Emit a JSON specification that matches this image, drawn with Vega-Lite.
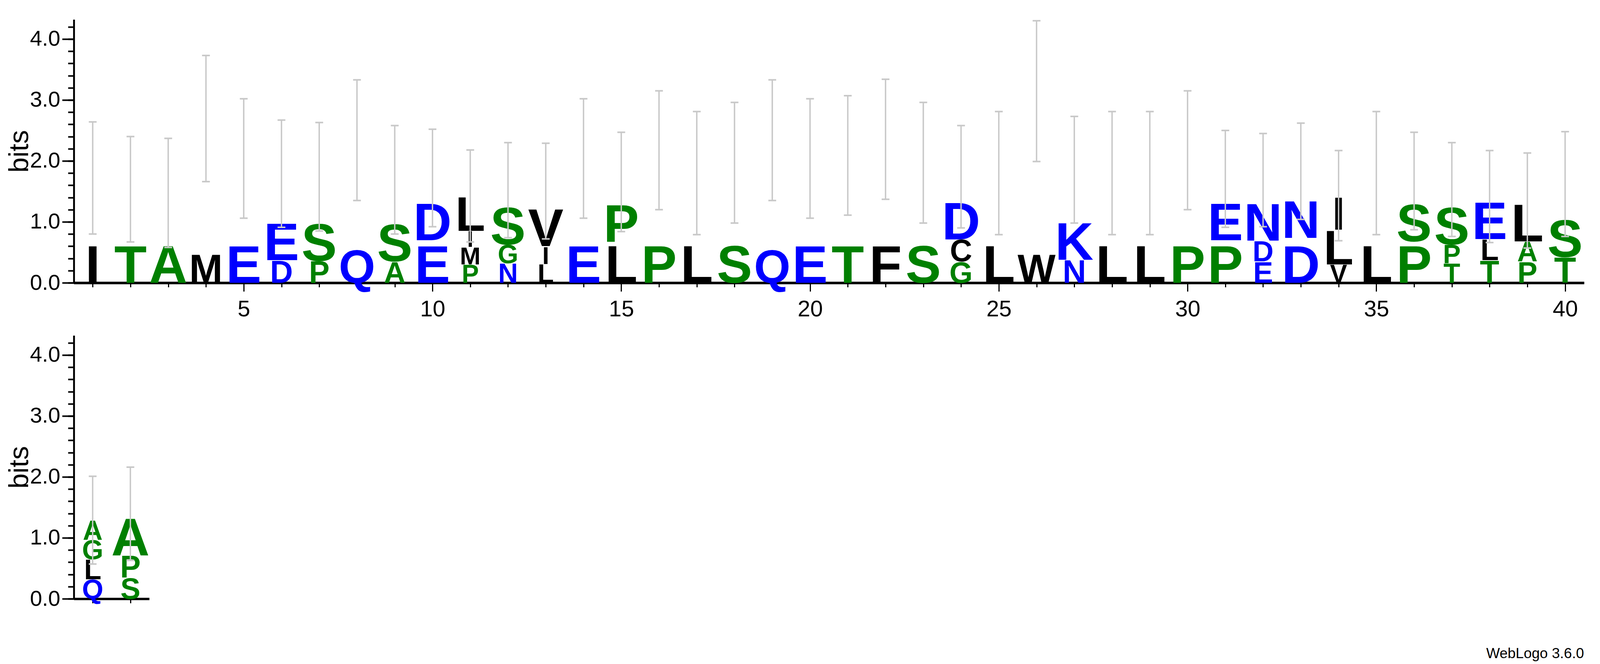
{
  "$schema": "https://vega.github.io/schema/vega-lite/v6.json",
  "background": "white",
  "padding": {"left": 15, "top": 50, "right": 10, "bottom": 5},
  "title": {
    "text": "WebLogo 3.6.0",
    "orient": "bottom",
    "anchor": "end",
    "font": "Liberation Sans",
    "fontSize": 37,
    "fontWeight": "normal",
    "color": "black",
    "offset": 95
  },
  "config": {
    "view": {"stroke": null},
    "font": "Liberation Sans",
    "axis": {
      "grid": false,
      "domainColor": "black",
      "tickColor": "black",
      "labelColor": "black",
      "labelFont": "Liberation Sans",
      "labelFlush": false,
      "labelOverlap": false,
      "titleFont": "Liberation Sans",
      "titleColor": "black",
      "titleFontWeight": "normal"
    },
    "axisX": {"domainWidth": 6, "tickWidth": 3, "labelFontSize": 58},
    "axisY": {"domainWidth": 4.3, "tickWidth": 4, "labelFontSize": 56, "titleFontSize": 70}
  },
  "datasets": {
    "top": [
      {"pos": 1, "letter": "I", "bits": 1.71},
      {"pos": 2, "letter": "T", "bits": 1.54},
      {"pos": 3, "letter": "A", "bits": 1.48},
      {"pos": 4, "letter": "M", "bits": 2.69},
      {"pos": 5, "letter": "E", "bits": 2.04},
      {"pos": 6, "letter": "D", "bits": 0.37},
      {"pos": 6, "letter": "E", "bits": 1.42},
      {"pos": 7, "letter": "P", "bits": 0.36},
      {"pos": 7, "letter": "S", "bits": 1.38},
      {"pos": 8, "letter": "Q", "bits": 2.34},
      {"pos": 9, "letter": "A", "bits": 0.35},
      {"pos": 9, "letter": "S", "bits": 1.34},
      {"pos": 10, "letter": "E", "bits": 0.7},
      {"pos": 10, "letter": "D", "bits": 1.02},
      {"pos": 11, "letter": "P", "bits": 0.3},
      {"pos": 11, "letter": "M", "bits": 0.29},
      {"pos": 11, "letter": "I", "bits": 0.26},
      {"pos": 11, "letter": "L", "bits": 0.57},
      {"pos": 12, "letter": "N", "bits": 0.32},
      {"pos": 12, "letter": "G", "bits": 0.31},
      {"pos": 12, "letter": "S", "bits": 0.89},
      {"pos": 13, "letter": "L", "bits": 0.31},
      {"pos": 13, "letter": "I", "bits": 0.29},
      {"pos": 13, "letter": "V", "bits": 0.89},
      {"pos": 14, "letter": "E", "bits": 2.04},
      {"pos": 15, "letter": "L", "bits": 0.67},
      {"pos": 15, "letter": "P", "bits": 0.98},
      {"pos": 16, "letter": "P", "bits": 2.18},
      {"pos": 17, "letter": "L", "bits": 1.81},
      {"pos": 18, "letter": "S", "bits": 1.97},
      {"pos": 19, "letter": "Q", "bits": 2.34},
      {"pos": 20, "letter": "E", "bits": 2.04},
      {"pos": 21, "letter": "T", "bits": 2.08},
      {"pos": 22, "letter": "F", "bits": 2.35},
      {"pos": 23, "letter": "S", "bits": 1.97},
      {"pos": 24, "letter": "G", "bits": 0.35},
      {"pos": 24, "letter": "C", "bits": 0.36},
      {"pos": 24, "letter": "D", "bits": 1.03},
      {"pos": 25, "letter": "L", "bits": 1.81},
      {"pos": 26, "letter": "W", "bits": 3.13},
      {"pos": 27, "letter": "N", "bits": 0.38},
      {"pos": 27, "letter": "K", "bits": 1.48},
      {"pos": 28, "letter": "L", "bits": 1.81},
      {"pos": 29, "letter": "L", "bits": 1.81},
      {"pos": 30, "letter": "P", "bits": 2.18},
      {"pos": 31, "letter": "P", "bits": 0.7},
      {"pos": 31, "letter": "E", "bits": 1.0},
      {"pos": 32, "letter": "E", "bits": 0.35},
      {"pos": 32, "letter": "D", "bits": 0.34},
      {"pos": 32, "letter": "N", "bits": 0.99},
      {"pos": 33, "letter": "D", "bits": 0.74},
      {"pos": 33, "letter": "N", "bits": 1.08},
      {"pos": 34, "letter": "V", "bits": 0.3},
      {"pos": 34, "letter": "L", "bits": 0.57},
      {"pos": 34, "letter": "I", "bits": 0.54},
      {"pos": 35, "letter": "L", "bits": 1.81},
      {"pos": 36, "letter": "P", "bits": 0.68},
      {"pos": 36, "letter": "S", "bits": 0.98},
      {"pos": 37, "letter": "T", "bits": 0.32},
      {"pos": 37, "letter": "P", "bits": 0.31},
      {"pos": 37, "letter": "S", "bits": 0.9},
      {"pos": 38, "letter": "T", "bits": 0.37},
      {"pos": 38, "letter": "L", "bits": 0.35},
      {"pos": 38, "letter": "E", "bits": 0.69},
      {"pos": 39, "letter": "P", "bits": 0.35},
      {"pos": 39, "letter": "A", "bits": 0.33},
      {"pos": 39, "letter": "L", "bits": 0.67},
      {"pos": 40, "letter": "T", "bits": 0.42},
      {"pos": 40, "letter": "S", "bits": 1.19}
    ],
    "topErr": [
      {"pos": 1, "lo": 0.8, "hi": 2.64},
      {"pos": 2, "lo": 0.67, "hi": 2.4},
      {"pos": 3, "lo": 0.58, "hi": 2.37},
      {"pos": 4, "lo": 1.66, "hi": 3.73},
      {"pos": 5, "lo": 1.06, "hi": 3.02},
      {"pos": 6, "lo": 0.91, "hi": 2.67},
      {"pos": 7, "lo": 0.85, "hi": 2.63},
      {"pos": 8, "lo": 1.35, "hi": 3.33},
      {"pos": 9, "lo": 0.8, "hi": 2.58},
      {"pos": 10, "lo": 0.92, "hi": 2.52},
      {"pos": 11, "lo": 0.67, "hi": 2.18},
      {"pos": 12, "lo": 0.74, "hi": 2.3},
      {"pos": 13, "lo": 0.72, "hi": 2.29},
      {"pos": 14, "lo": 1.06, "hi": 3.02},
      {"pos": 15, "lo": 0.84, "hi": 2.47},
      {"pos": 16, "lo": 1.2, "hi": 3.15},
      {"pos": 17, "lo": 0.79, "hi": 2.81},
      {"pos": 18, "lo": 0.98, "hi": 2.96},
      {"pos": 19, "lo": 1.35, "hi": 3.33},
      {"pos": 20, "lo": 1.06, "hi": 3.02},
      {"pos": 21, "lo": 1.11, "hi": 3.07},
      {"pos": 22, "lo": 1.37, "hi": 3.34},
      {"pos": 23, "lo": 0.98, "hi": 2.96},
      {"pos": 24, "lo": 0.9, "hi": 2.58},
      {"pos": 25, "lo": 0.79, "hi": 2.81},
      {"pos": 26, "lo": 1.99, "hi": 4.3},
      {"pos": 27, "lo": 0.98, "hi": 2.73},
      {"pos": 28, "lo": 0.79, "hi": 2.81},
      {"pos": 29, "lo": 0.79, "hi": 2.81},
      {"pos": 30, "lo": 1.2, "hi": 3.15},
      {"pos": 31, "lo": 0.91, "hi": 2.5},
      {"pos": 32, "lo": 0.92, "hi": 2.45},
      {"pos": 33, "lo": 1.04, "hi": 2.62},
      {"pos": 34, "lo": 0.69, "hi": 2.17},
      {"pos": 35, "lo": 0.79, "hi": 2.81},
      {"pos": 36, "lo": 0.87, "hi": 2.47},
      {"pos": 37, "lo": 0.76, "hi": 2.3},
      {"pos": 38, "lo": 0.66, "hi": 2.17},
      {"pos": 39, "lo": 0.57, "hi": 2.13},
      {"pos": 40, "lo": 0.76, "hi": 2.48}
    ],
    "bottom": [
      {"pos": 1, "letter": "Q", "bits": 0.32},
      {"pos": 1, "letter": "L", "bits": 0.33},
      {"pos": 1, "letter": "G", "bits": 0.32},
      {"pos": 1, "letter": "A", "bits": 0.32},
      {"pos": 2, "letter": "S", "bits": 0.35},
      {"pos": 2, "letter": "P", "bits": 0.36},
      {"pos": 2, "letter": "A", "bits": 0.68}
    ],
    "bottomErr": [
      {"pos": 1, "lo": 0.57, "hi": 2.01},
      {"pos": 2, "lo": 0.63, "hi": 2.16}
    ]
  },
  "bounds": "flush",
  "spacing": 135,
  "vconcat": [
    {
      "width": 3866,
      "height": 674,
      "layer": [
        {
          "data": {"name": "top"},
          "transform": [
            {"stack": "bits", "groupby": ["pos"], "as": ["y0", "y1"]},
            {"filter": {"not": {"field": "letter", "oneOf": ["M", "W", "Q", "G"]}}}
          ],
          "mark": {"type": "text", "font": "Liberation Sans", "fontWeight": "bold", "align": "center", "baseline": "alphabetic"},
          "encoding": {
            "x": {
              "field": "pos", "type": "quantitative",
              "scale": {"domain": [0.5, 40.5], "nice": false, "zero": false},
              "axis": {"orient": "bottom", "values": [5, 10, 15, 20, 25, 30, 35, 40], "tickSize": 22, "labelPadding": 17, "title": null}
            },
            "y": {
              "field": "y0", "type": "quantitative",
              "scale": {"domain": [0, 4.32], "nice": false},
              "axis": {"orient": "left", "values": [0, 1, 2, 3, 4], "format": ".1f", "tickSize": 30, "labelPadding": 5, "title": "bits", "titlePadding": -10}
            },
            "text": {"field": "letter"},
            "color": {
              "field": "letter", "type": "nominal", "legend": null,
              "scale": {
                "domain": ["A", "C", "D", "E", "F", "G", "I", "K", "L", "M", "N", "P", "Q", "S", "T", "V", "W"],
                "range": ["#008000", "#000000", "#0000ff", "#0000ff", "#000000", "#008000", "#000000", "#0000ff", "#000000", "#000000", "#0000ff", "#008000", "#0000ff", "#008000", "#008000", "#000000", "#000000"]
              }
            },
            "size": {
              "field": "bits", "type": "quantitative", "legend": null,
              "scale": {"domain": [0, 0.62, 4.32], "range": [0, 136, 136]}
            }
          }
        },
        {
          "data": {"name": "top"},
          "transform": [
            {"stack": "bits", "groupby": ["pos"], "as": ["y0", "y1"]},
            {"filter": {"field": "letter", "oneOf": ["Q", "G"]}}
          ],
          "mark": {"type": "text", "font": "Liberation Sans", "fontWeight": "bold", "align": "center", "baseline": "alphabetic"},
          "encoding": {
            "x": {"field": "pos", "type": "quantitative", "axis": null},
            "y": {"field": "y0", "type": "quantitative", "axis": null},
            "text": {"field": "letter"},
            "color": {"field": "letter", "type": "nominal", "legend": null},
            "size": {
              "field": "bits", "type": "quantitative", "legend": null,
              "scale": {"domain": [0, 0.55, 4.32], "range": [0, 120, 120]}
            }
          }
        },
        {
          "data": {"name": "top"},
          "transform": [
            {"stack": "bits", "groupby": ["pos"], "as": ["y0", "y1"]},
            {"filter": {"field": "letter", "oneOf": ["M", "W"]}}
          ],
          "mark": {"type": "text", "font": "Liberation Sans", "fontWeight": "bold", "align": "center", "baseline": "alphabetic"},
          "encoding": {
            "x": {"field": "pos", "type": "quantitative", "axis": null},
            "y": {"field": "y0", "type": "quantitative", "axis": null},
            "text": {"field": "letter"},
            "color": {"field": "letter", "type": "nominal", "legend": null},
            "size": {
              "field": "bits", "type": "quantitative", "legend": null,
              "scale": {"domain": [0, 0.47, 4.32], "range": [0, 103, 103]}
            }
          }
        },
        {
          "data": {"name": "topErr"},
          "mark": {"type": "rule", "color": "#c8c8c8", "strokeWidth": 3.6},
          "encoding": {
            "x": {
              "field": "pos", "type": "quantitative",
              "axis": {"orient": "bottom", "values": [1, 2, 3, 4, 5, 6, 7, 8, 9, 10, 11, 12, 13, 14, 15, 16, 17, 18, 19, 20, 21, 22, 23, 24, 25, 26, 27, 28, 29, 30, 31, 32, 33, 34, 35, 36, 37, 38, 39, 40], "tickSize": 11, "labels": false, "title": null}
            },
            "y": {
              "field": "lo", "type": "quantitative",
              "axis": {"orient": "left", "values": [0, 0.2, 0.4, 0.6, 0.8, 1, 1.2, 1.4, 1.6, 1.8, 2, 2.2, 2.4, 2.6, 2.8, 3, 3.2, 3.4, 3.6, 3.8, 4, 4.2], "tickSize": 15, "labels": false, "title": null}
            },
            "y2": {"field": "hi"}
          }
        },
        {
          "data": {"name": "topErr"},
          "mark": {"type": "tick", "orient": "horizontal", "color": "#c8c8c8", "size": 20, "thickness": 4, "opacity": 1},
          "encoding": {
            "x": {"field": "pos", "type": "quantitative", "axis": null},
            "y": {"field": "lo", "type": "quantitative", "axis": null}
          }
        },
        {
          "data": {"name": "topErr"},
          "mark": {"type": "tick", "orient": "horizontal", "color": "#c8c8c8", "size": 20, "thickness": 4, "opacity": 1},
          "encoding": {
            "x": {"field": "pos", "type": "quantitative", "axis": null},
            "y": {"field": "hi", "type": "quantitative", "axis": null}
          }
        }
      ],
      "resolve": {"axis": {"x": "independent", "y": "independent"}, "scale": {"size": "independent"}}
    },
    {
      "width": 193,
      "height": 674,
      "layer": [
        {
          "data": {"name": "bottom"},
          "transform": [
            {"stack": "bits", "groupby": ["pos"], "as": ["y0", "y1"]}
          ],
          "mark": {"type": "text", "font": "Liberation Sans", "fontWeight": "bold", "align": "center", "baseline": "alphabetic"},
          "encoding": {
            "x": {
              "field": "pos", "type": "quantitative",
              "scale": {"domain": [0.5, 2.5], "nice": false, "zero": false},
              "axis": {"orient": "bottom", "values": [1, 2], "tickSize": 11, "labels": false, "title": null}
            },
            "y": {
              "field": "y0", "type": "quantitative",
              "scale": {"domain": [0, 4.32], "nice": false},
              "axis": {"orient": "left", "values": [0, 1, 2, 3, 4], "format": ".1f", "tickSize": 30, "labelPadding": 5, "title": "bits", "titlePadding": -10}
            },
            "text": {"field": "letter"},
            "color": {
              "field": "letter", "type": "nominal", "legend": null,
              "scale": {
                "domain": ["A", "C", "D", "E", "F", "G", "I", "K", "L", "M", "N", "P", "Q", "S", "T", "V", "W"],
                "range": ["#008000", "#000000", "#0000ff", "#0000ff", "#000000", "#008000", "#000000", "#0000ff", "#000000", "#000000", "#0000ff", "#008000", "#0000ff", "#008000", "#008000", "#000000", "#000000"]
              }
            },
            "size": {
              "field": "bits", "type": "quantitative", "legend": null,
              "scale": {"domain": [0, 0.62, 4.32], "range": [0, 136, 136]}
            }
          }
        },
        {
          "data": {"name": "bottomErr"},
          "mark": {"type": "rule", "color": "#c8c8c8", "strokeWidth": 3.6},
          "encoding": {
            "x": {"field": "pos", "type": "quantitative", "axis": null},
            "y": {
              "field": "lo", "type": "quantitative",
              "axis": {"orient": "left", "values": [0, 0.2, 0.4, 0.6, 0.8, 1, 1.2, 1.4, 1.6, 1.8, 2, 2.2, 2.4, 2.6, 2.8, 3, 3.2, 3.4, 3.6, 3.8, 4, 4.2], "tickSize": 15, "labels": false, "title": null}
            },
            "y2": {"field": "hi"}
          }
        },
        {
          "data": {"name": "bottomErr"},
          "mark": {"type": "tick", "orient": "horizontal", "color": "#c8c8c8", "size": 20, "thickness": 4, "opacity": 1},
          "encoding": {
            "x": {"field": "pos", "type": "quantitative", "axis": null},
            "y": {"field": "lo", "type": "quantitative", "axis": null}
          }
        },
        {
          "data": {"name": "bottomErr"},
          "mark": {"type": "tick", "orient": "horizontal", "color": "#c8c8c8", "size": 20, "thickness": 4, "opacity": 1},
          "encoding": {
            "x": {"field": "pos", "type": "quantitative", "axis": null},
            "y": {"field": "hi", "type": "quantitative", "axis": null}
          }
        }
      ],
      "resolve": {"axis": {"x": "independent", "y": "independent"}}
    }
  ]
}
